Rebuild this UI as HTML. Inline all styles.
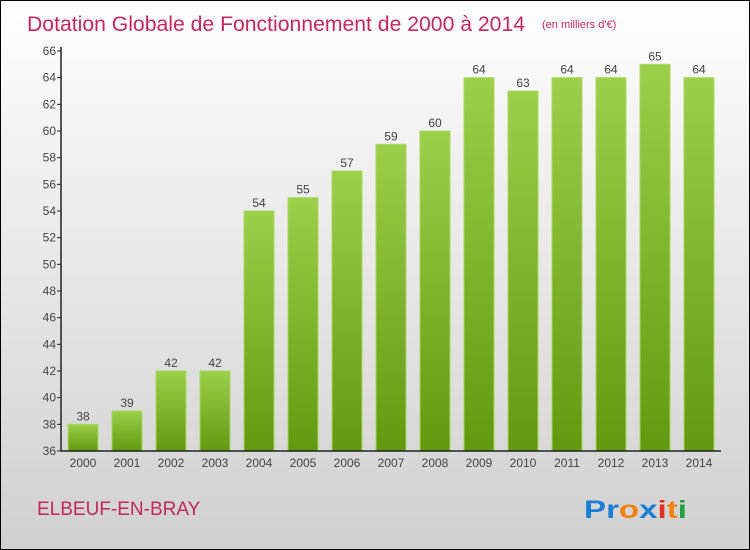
<!DOCTYPE html>
<html><head><meta charset="utf-8"><style>
body{margin:0}
#c{width:750px;height:550px;position:relative;box-sizing:border-box;border:1px solid #000;background:linear-gradient(#ffffff,#f2f2f2 25%,#d0d0d0);font-family:"Liberation Sans",sans-serif;overflow:hidden}
</style></head><body>
<div id="c">
<svg width="750" height="550" style="position:absolute;left:0;top:0" id="s">
<defs><linearGradient id="g" x1="0" y1="0" x2="0" y2="1"><stop offset="0" stop-color="#9ccf4a"/><stop offset="1" stop-color="#62990f"/></linearGradient></defs>
<text x="26" y="30" font-size="21" fill="#c2285a" textLength="498" lengthAdjust="spacingAndGlyphs">Dotation Globale de Fonctionnement de 2000 à 2014</text>
<text x="541" y="27" font-size="11" fill="#c2285a">(en milliers d'€)</text>
<text x="36" y="514" font-size="19" fill="#c2285a">ELBEUF-EN-BRAY</text>
<text x="583" y="517" font-size="25" font-weight="bold" textLength="103" lengthAdjust="spacingAndGlyphs"><tspan fill="#1a7fd4">Pr</tspan><tspan fill="#f08010">o</tspan><tspan fill="#1a7fd4">x</tspan><tspan fill="#e03020">i</tspan><tspan fill="#f08010">t</tspan><tspan fill="#20a040">i</tspan></text>
<g id="plot"></g>
</svg>
</div>
<script>
const categories=["2000","2001","2002","2003","2004","2005","2006","2007","2008","2009","2010","2011","2012","2013","2014"];
const values=[38,39,42,42,54,55,57,59,60,64,63,64,64,65,64];
const yTicks=[36,38,40,42,44,46,48,50,52,54,56,58,60,62,64,66];
const yMin=36,yMax=66,plotTop=50,plotBot=450,plotLeft=60,plotRight=720;
const y=v=>plotBot-(v-yMin)/(yMax-yMin)*(plotBot-plotTop);
const x=i=>82+i*44;
const ns="http://www.w3.org/2000/svg",p=document.getElementById('plot');
function mk(t,a,txt){const e=document.createElementNS(ns,t);for(const k in a)e.setAttribute(k,a[k]);if(txt!=null)e.textContent=txt;p.appendChild(e);return e;}
yTicks.forEach(t=>{
 const l=mk('line',{x1:plotLeft-4,x2:plotLeft,y1:y(t),y2:y(t),stroke:'#222'});
 
 
 const tx=mk('text',{x:plotLeft-5,y:y(t)+4,'font-size':12,'text-anchor':'end',fill:'#444'},t);
 
 
});
values.forEach((v,i)=>{
 const r=mk('rect',{x:x(i)-15,y:y(v),width:30,height:plotBot-y(v),fill:'url(#g)',stroke:'#a8d860','stroke-width':1});
 
 
 const vl=mk('text',{x:x(i),y:y(v)-4,'font-size':12,'text-anchor':'middle',fill:'#444'},v);
 
 
 const xl=mk('text',{x:x(i),y:plotBot+16,'font-size':12,'text-anchor':'middle',fill:'#444'},categories[i]);
 
 
});
const ya=mk('line',{x1:plotLeft,x2:plotLeft,y1:plotTop-4,y2:plotBot,stroke:'#222','stroke-width':1.5});


const xa=mk('line',{x1:plotLeft,x2:plotRight,y1:plotBot,y2:plotBot,stroke:'#222','stroke-width':1.5});


</script>
</body></html>
